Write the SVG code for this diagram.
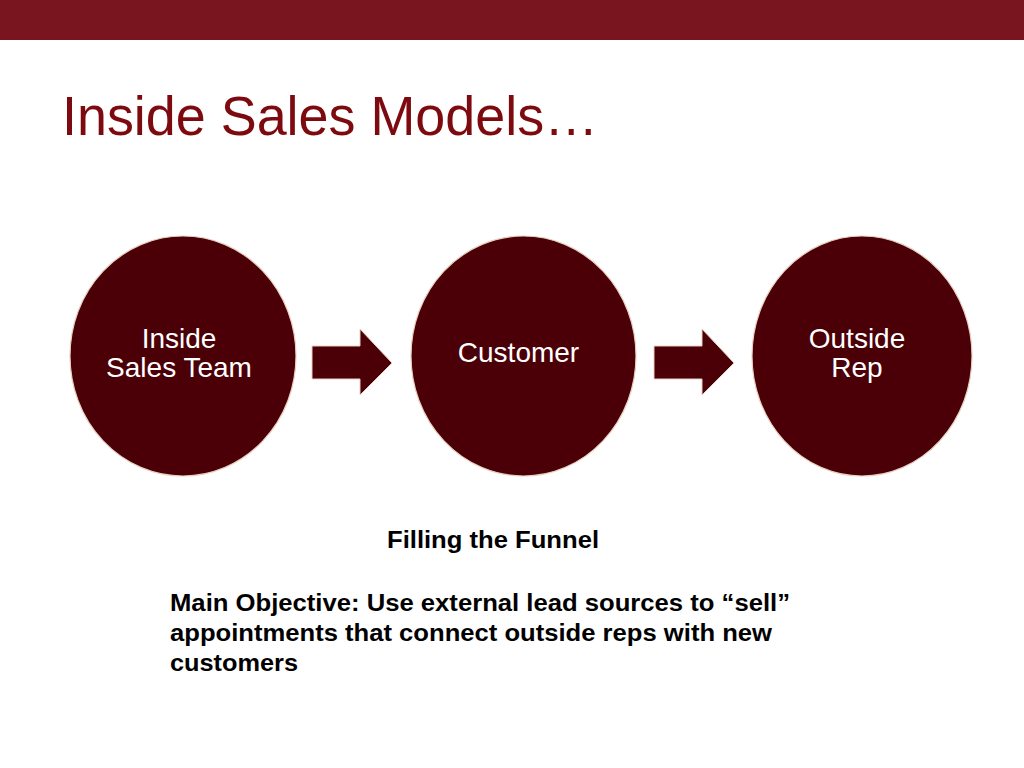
<svg xmlns="http://www.w3.org/2000/svg" width="1024" height="768" viewBox="0 0 1024 768">
<style>
.node{fill:#4a0006;stroke:#e8cfc0;stroke-width:1.2}
.lbl{font-family:"Liberation Sans",Arial,sans-serif;font-size:28px;fill:#ffffff;text-anchor:middle}
.arrow{fill:#4a0006;stroke:#e8cfc0;stroke-width:1}
.body{font-family:"Liberation Sans",Arial,sans-serif;font-size:23px;font-weight:bold;fill:#000000}
</style>
<rect x="0" y="0" width="1024" height="768" fill="#ffffff"/>
<rect x="0" y="0" width="1024" height="40" fill="#78151f"/>
<text x="62" y="135" font-family="'Liberation Sans',Arial,sans-serif" font-size="56" fill="#7d0a0f" textLength="536" lengthAdjust="spacingAndGlyphs">Inside Sales Models…</text>
<g id="node-inside-sales-team">
<ellipse class="node" cx="183" cy="356" rx="113" ry="120"/>
<text class="lbl" x="179" y="348">Inside</text>
<text class="lbl" x="179" y="377">Sales Team</text>
</g>
<g id="node-customer">
<ellipse class="node" cx="523.5" cy="356" rx="112.5" ry="120"/>
<text class="lbl" x="518.5" y="362">Customer</text>
</g>
<g id="node-outside-rep">
<ellipse class="node" cx="862" cy="356" rx="110" ry="120"/>
<text class="lbl" x="857" y="348">Outside</text>
<text class="lbl" x="857" y="377">Rep</text>
</g>
<g id="connectors">
<polygon class="arrow" points="312,346 360,346 360,329 392,363 360,395 360,379 312,379"/>
<polygon class="arrow" points="654,346 702,346 702,329 734,363 702,395 702,379 654,379"/>
</g>
<text class="body" x="387" y="548" font-size="22" textLength="212" lengthAdjust="spacingAndGlyphs">Filling the Funnel</text>
<text class="body" x="170" y="611" textLength="620" lengthAdjust="spacingAndGlyphs">Main Objective: Use external lead sources to “sell”</text>
<text class="body" x="170" y="641" textLength="602" lengthAdjust="spacingAndGlyphs">appointments that connect outside reps with new</text>
<text class="body" x="170" y="671" textLength="128" lengthAdjust="spacingAndGlyphs">customers</text>
</svg>
